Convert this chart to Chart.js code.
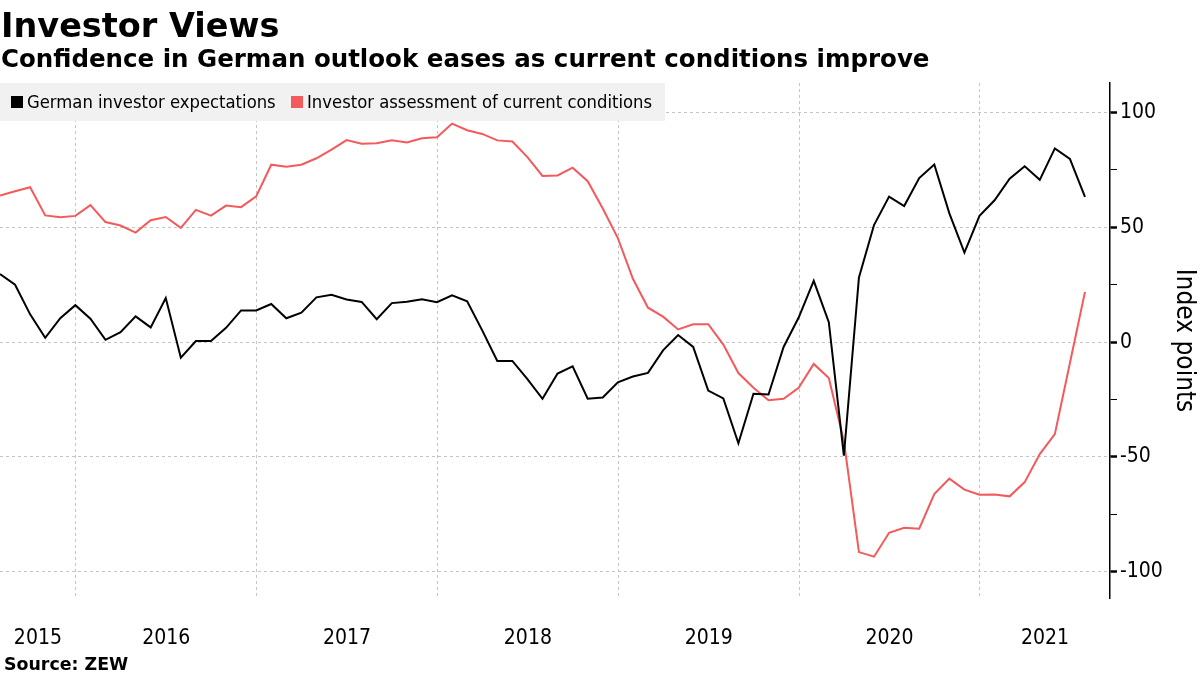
<!DOCTYPE html>
<html>
<head>
<meta charset="utf-8">
<script src="https://cdn.jsdelivr.net/npm/chart.js@4.4.1/dist/chart.umd.min.js"></script>
<style>
  html, body { margin: 0; padding: 0; background: #fff; width: 1200px; height: 675px; overflow: hidden; }
  #wrap { position: relative; width: 1200px; height: 675px; }
  #c { position: absolute; left: 0; top: 0; }
  .t { position: absolute; white-space: nowrap; color: #000; font-family: "DejaVu Sans", sans-serif; font-weight: bold; line-height: 1; }
  #title { left: 1px; top: 9px; font-size: 33.5px; }
  #sub { left: 1px; top: 47px; font-size: 24.5px; }
  #src { left: 4px; top: 656px; font-size: 17.4px; }
  #legend { position: absolute; left: 0; top: 83px; width: 665px; height: 38px; background: rgba(240,240,240,0.96);
            font-family: "DejaVu Sans Condensed", "DejaVu Sans", sans-serif; font-size: 18.3px; color: #000; }
  #legend .sw { position: absolute; top: 13px; width: 12px; height: 12px; }
  #legend .tx { position: absolute; top: 0; line-height: 38px; white-space: nowrap; }
</style>
</head>
<body>
<div id="wrap">
  <canvas id="c" width="1200" height="675"></canvas>
  <div class="t" id="title">Investor Views</div>
  <div class="t" id="sub">Confidence in German outlook eases as current conditions improve</div>
  <div id="legend">
    <div class="sw" style="left:11px;background:#000"></div><div class="tx" style="left:27px">German investor expectations</div>
    <div class="sw" style="left:291px;background:#f4595b"></div><div class="tx" style="left:307px">Investor assessment of current conditions</div>
  </div>
  <div class="t" id="src">Source: ZEW</div>
</div>
<script>
// Monthly ZEW survey readings, July 2015 - July 2021
const months = [
  "2015-07","2015-08","2015-09","2015-10","2015-11","2015-12",
  "2016-01","2016-02","2016-03","2016-04","2016-05","2016-06","2016-07","2016-08","2016-09","2016-10","2016-11","2016-12",
  "2017-01","2017-02","2017-03","2017-04","2017-05","2017-06","2017-07","2017-08","2017-09","2017-10","2017-11","2017-12",
  "2018-01","2018-02","2018-03","2018-04","2018-05","2018-06","2018-07","2018-08","2018-09","2018-10","2018-11","2018-12",
  "2019-01","2019-02","2019-03","2019-04","2019-05","2019-06","2019-07","2019-08","2019-09","2019-10","2019-11","2019-12",
  "2020-01","2020-02","2020-03","2020-04","2020-05","2020-06","2020-07","2020-08","2020-09","2020-10","2020-11","2020-12",
  "2021-01","2021-02","2021-03","2021-04","2021-05","2021-06","2021-07"
];
const expectations = [
  29.7, 25.0, 12.1, 1.9, 10.4, 16.1,
  10.2, 1.0, 4.3, 11.2, 6.4, 19.2, -6.8, 0.5, 0.5, 6.2, 13.8, 13.8,
  16.6, 10.4, 12.8, 19.5, 20.6, 18.6, 17.5, 10.0, 17.0, 17.6, 18.7, 17.4,
  20.4, 17.8, 5.1, -8.2, -8.2, -16.1, -24.7, -13.7, -10.6, -24.7, -24.1, -17.5,
  -15.0, -13.4, -3.6, 3.1, -2.1, -21.1, -24.5, -44.1, -22.5, -22.8, -2.1, 10.7,
  26.7, 8.7, -49.5, 28.2, 51.0, 63.4, 59.3, 71.5, 77.4, 56.1, 39.0, 55.0,
  61.8, 71.2, 76.6, 70.7, 84.4, 79.8, 63.3
];
const currentConditions = [
  63.9, 65.7, 67.5, 55.2, 54.4, 55.0,
  59.7, 52.3, 50.8, 47.7, 53.1, 54.5, 49.8, 57.6, 55.1, 59.5, 58.8, 63.5,
  77.3, 76.4, 77.3, 80.1, 83.9, 88.0, 86.4, 86.7, 87.9, 87.0, 88.8, 89.3,
  95.2, 92.3, 90.7, 87.9, 87.4, 80.6, 72.4, 72.6, 76.0, 70.1, 58.2, 45.3,
  27.6, 15.0, 11.1, 5.5, 7.8, 7.8, -1.1, -13.5, -19.9, -25.3, -24.7, -19.9,
  -9.5, -15.7, -43.1, -91.5, -93.5, -83.1, -80.9, -81.3, -66.2, -59.5, -64.3, -66.5,
  -66.4, -67.2, -61.0, -48.8, -40.1, -9.1, 21.9
];
const yearLabels = ["2015","2016","2017","2018","2019","2020","2021"];
const yTickValues = [-100, -75, -50, -25, 0, 25, 50, 75, 100];
const yLabelValues = [-100, -50, 0, 50, 100];

// Readings are dated at month end; a year starts just after each December reading.
const X_MAX = 73.66;
const boundaries = [];
months.forEach((m, i) => { if (m.endsWith("-12")) boundaries.push(i + 0.03); });
const edges = [0, ...boundaries, X_MAX];
const labelPos = yearLabels.map((y, k) => (edges[k] + edges[k + 1]) / 2);
const labelAt = new Map(labelPos.map((p, k) => [p.toFixed(3), yearLabels[k]]));
const isBoundary = v => boundaries.some(b => Math.abs(b - v) < 1e-6);

const expPts = expectations.map((v, i) => ({ x: i, y: v }));
const curPts = currentConditions.map((v, i) => ({ x: i, y: v }));

const FONT_FAMILY = "'DejaVu Sans Condensed', 'DejaVu Sans', sans-serif";
const TICK_FONT = { family: FONT_FAMILY, size: 21 };

new Chart(document.getElementById("c"), {
  type: "line",
  data: {
    datasets: [
      { label: "German investor expectations", data: expPts, borderColor: "#000", borderWidth: 2,
        pointRadius: 0, tension: 0, fill: false },
      { label: "Investor assessment of current conditions", data: curPts, borderColor: "#f4595b", borderWidth: 2,
        pointRadius: 0, tension: 0, fill: false }
    ]
  },
  options: {
    responsive: false,
    animation: false,
    events: [],
    layout: { autoPadding: false, padding: { left: 0, right: 0, top: 83, bottom: 0 } },
    plugins: { legend: { display: false }, tooltip: { enabled: false }, title: { display: false } },
    scales: {
      x: {
        type: "linear", min: 0, max: X_MAX,
        afterBuildTicks: s => { s.ticks = [...boundaries, ...labelPos].sort((a, b) => a - b).map(v => ({ value: v })); },
        afterFit: s => { s.height = 77; s.paddingLeft = 0; s.paddingRight = 0; },
        border: { display: false, dash: [3, 3] },
        grid: { drawTicks: false, color: c => (c.tick && isBoundary(c.tick.value)) ? "#c4c4c4" : "rgba(0,0,0,0)", lineWidth: 1 },
        ticks: { autoSkip: false, maxRotation: 0, padding: 28, color: "#000", font: TICK_FONT,
                 callback: v => labelAt.get(Number(v).toFixed(3)) || "" }
      },
      y: {
        position: "right", min: -111.5, max: 112.9,
        afterBuildTicks: s => { s.ticks = yTickValues.map(v => ({ value: v })); },
        afterFit: s => { s.width = 90; s.paddingTop = 0; s.paddingBottom = 0; },
        border: { display: true, color: "#000", width: 1.5, dash: [3, 3] },
        grid: {
          color: c => (c.tick && yLabelValues.includes(c.tick.value)) ? "#c4c4c4" : "rgba(0,0,0,0)",
          lineWidth: 1, tickLength: 7, tickColor: "#000",
          tickWidth: c => (c.tick && yLabelValues.includes(c.tick.value)) ? 2.5 : 1,
          tickBorderDash: []
        },
        ticks: { padding: 3, color: "#000", font: TICK_FONT,
                 callback: v => yLabelValues.includes(v) ? String(v) : "" },
        title: { display: true, text: "Index points", color: "#000",
                 font: { family: FONT_FAMILY, size: 26 },
                 padding: { top: 1, bottom: 0 } }
      }
    }
  }
});
</script>
</body>
</html>
